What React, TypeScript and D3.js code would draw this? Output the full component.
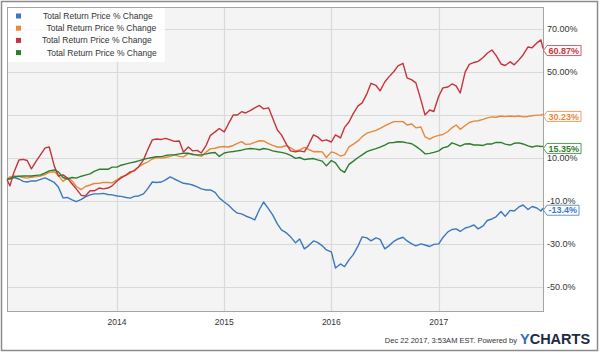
import React, { useEffect, useRef } from "react";
import * as d3 from "d3";

// sample dates: start, 1st and 15th of each month, end
const dates = [
  "2012-12-22",
  "2013-01-01", "2013-01-15", "2013-02-01", "2013-02-15", "2013-03-01", "2013-03-15", "2013-04-01", "2013-04-15",
  "2013-05-01", "2013-05-15", "2013-06-01", "2013-06-15", "2013-07-01", "2013-07-15", "2013-08-01", "2013-08-15",
  "2013-09-01", "2013-09-15", "2013-10-01", "2013-10-15", "2013-11-01", "2013-11-15", "2013-12-01", "2013-12-15",
  "2014-01-01", "2014-01-15", "2014-02-01", "2014-02-15", "2014-03-01", "2014-03-15", "2014-04-01", "2014-04-15",
  "2014-05-01", "2014-05-15", "2014-06-01", "2014-06-15", "2014-07-01", "2014-07-15", "2014-08-01", "2014-08-15",
  "2014-09-01", "2014-09-15", "2014-10-01", "2014-10-15", "2014-11-01", "2014-11-15", "2014-12-01", "2014-12-15",
  "2015-01-01", "2015-01-15", "2015-02-01", "2015-02-15", "2015-03-01", "2015-03-15", "2015-04-01", "2015-04-15",
  "2015-05-01", "2015-05-15", "2015-06-01", "2015-06-15", "2015-07-01", "2015-07-15", "2015-08-01", "2015-08-15",
  "2015-09-01", "2015-09-15", "2015-10-01", "2015-10-15", "2015-11-01", "2015-11-15", "2015-12-01", "2015-12-15",
  "2016-01-01", "2016-01-15", "2016-02-01", "2016-02-15", "2016-03-01", "2016-03-15", "2016-04-01", "2016-04-15",
  "2016-05-01", "2016-05-15", "2016-06-01", "2016-06-15", "2016-07-01", "2016-07-15", "2016-08-01", "2016-08-15",
  "2016-09-01", "2016-09-15", "2016-10-01", "2016-10-15", "2016-11-01", "2016-11-15", "2016-12-01", "2016-12-15",
  "2017-01-01", "2017-01-15", "2017-02-01", "2017-02-15", "2017-03-01", "2017-03-15", "2017-04-01", "2017-04-15",
  "2017-05-01", "2017-05-15", "2017-06-01", "2017-06-15", "2017-07-01", "2017-07-15", "2017-08-01", "2017-08-15",
  "2017-09-01", "2017-09-15", "2017-10-01", "2017-10-15", "2017-11-01", "2017-11-15", "2017-12-01", "2017-12-15",
  "2017-12-22",
];

const blueValues = [
  0,
  0.2, 0.9, 0.2, -0.9, -1.2, -0.7, -0.7, 0, 0.7, -0.2, -1.4, -3.5,
  -8.6, -8.4, -9.5, -10.3, -9.3, -8.1, -7.2, -6.7, -6.7, -6.5, -7.0, -7.2,
  -7.7, -7.9, -8.4, -8.7, -7.9, -7.7, -6.7, -4.4, -1.2, -1.4, -1.2, -0.2,
  1.2, 0.2, -0.9, -1.8, -2.1, -2.6, -3.5, -4.4, -4.9, -4.9, -6.0, -8.6,
  -10.5, -11.9, -14.2, -15.7, -16.0, -17.0, -17.9, -18.8, -14.0, -10.5, -13.7, -16.5,
  -20.7, -23.5, -24.9, -26.7, -29.5, -27.7, -32.3, -30.9, -28.6, -29.3, -30.9, -32.8,
  -33.7, -41.2, -39.3, -40.6, -37.4, -35.1, -30.9, -26.7, -27.2, -28.6, -27.2, -27.9,
  -32.3, -30.9, -28.8, -27.7, -26.9, -28.6, -30.0, -30.9, -30.0, -30.5, -31.2, -30.2,
  -30.0, -27.0, -24.4, -23.3, -23.0, -24.2, -22.6, -22.1, -21.2, -23.0, -21.6, -19.1,
  -18.4, -17.4, -14.9, -17.2, -14.4, -14.7, -12.8, -11.9, -14.0, -12.6, -13.3, -14.7,
  -13.4,
];

const orangeValues = [
  0,
  1.2, 1.6, 1.4, 0.9, 0.6, 1.0, 1.3, 1.6, 2.3, 3.3, 3.6, 1.9,
  -0.9, 0.7, -0.7, -3.3, -4.7, -3.3, -2.6, -1.9, -1.8, -1.4, -1.4, -1.6,
  -0.2, 1.2, 1.9, 2.9, 4.4, 5.8, 7.2, 8.1, 9.5, 10.2, 9.9, 10.2,
  10.7, 11.4, 10.7, 10.5, 12.0, 11.9, 11.2, 10.7, 12.8, 14.2, 14.5, 15.1,
  15.3, 15.1, 15.8, 16.8, 17.6, 16.3, 16.5, 17.2, 18.0, 17.9, 16.7, 15.8,
  15.1, 15.1, 15.8, 14.7, 13.3, 13.7, 14.9, 14.0, 12.9, 13.0, 12.8, 10.2,
  12.8, 12.2, 10.9, 11.4, 15.1, 16.3, 17.9, 19.9, 21.5, 22.1, 22.8, 23.7,
  24.9, 25.8, 26.9, 26.9, 26.9, 25.3, 25.8, 24.0, 24.4, 19.8, 18.7, 19.8,
  20.5, 20.9, 22.3, 24.0, 25.3, 23.3, 25.1, 26.5, 27.1, 27.3, 27.9, 28.6,
  29.1, 28.9, 29.5, 29.2, 29.5, 29.3, 29.5, 29.1, 29.3, 29.6, 29.9, 30.0,
  30.23,
];

const redValues = [
  0,
  -3.0, 3.5, 9.1, 9.3, 8.8, 4.9, 8.6, 11.4, 14.7, 15.1, 6.3, 1.6,
  2.1, 0.7, -2.1, -4.4, -7.4, -7.7, -5.3, -5.3, -4.0, -4.4, -4.0, -3.0,
  -0.7, 0.7, 2.1, 3.5, 4.0, 5.8, 9.1, 13.7, 18.4, 18.8, 18.6, 19.1,
  18.4, 17.7, 17.9, 12.8, 15.1, 13.3, 13.5, 12.3, 16.0, 20.5, 22.1, 23.7,
  22.1, 25.8, 30.0, 30.0, 31.5, 30.9, 32.1, 33.3, 34.4, 32.8, 33.3, 28.6,
  23.0, 20.7, 16.3, 13.3, 12.8, 13.3, 12.8, 16.0, 20.7, 19.8, 17.9, 18.4,
  17.4, 20.7, 19.3, 24.2, 26.7, 30.5, 34.2, 35.6, 39.8, 44.7, 43.7, 41.2,
  45.3, 47.7, 50.2, 52.8, 54.0, 47.2, 46.3, 44.9, 37.0, 30.0, 32.3, 31.6,
  38.8, 42.6, 43.0, 44.4, 43.5, 40.2, 50.0, 53.5, 54.4, 54.9, 56.7, 58.7,
  60.2, 57.7, 53.7, 53.0, 54.7, 53.3, 55.6, 57.9, 61.6, 61.2, 63.5, 64.9,
  60.87,
];

const greenValues = [
  0,
  0.5, 1.2, 1.5, 1.6, 1.6, 1.6, 1.9, 2.1, 3.0, 4.0, 4.4, 3.5,
  0.9, 0.2, 0.9, 0.6, 1.5, 2.0, 2.6, 3.7, 4.7, 4.7, 4.7, 5.7,
  5.7, 6.6, 7.2, 7.7, 8.1, 8.6, 9.3, 9.8, 10.2, 10.6, 10.6, 11.1,
  11.4, 11.4, 11.9, 12.2, 12.2, 11.6, 11.4, 11.4, 11.9, 12.3, 12.5, 10.7,
  12.3, 12.7, 13.0, 13.3, 13.6, 14.1, 14.4, 14.2, 13.8, 14.4, 14.0, 13.3,
  12.9, 12.6, 12.0, 11.2, 9.8, 10.2, 9.2, 9.5, 9.7, 9.1, 8.5, 6.3,
  8.8, 7.7, 4.4, 3.3, 7.0, 8.4, 10.2, 11.4, 12.9, 13.6, 14.3, 15.0,
  16.0, 17.0, 17.2, 17.5, 17.4, 17.0, 16.6, 15.4, 13.7, 11.9, 12.1, 12.6,
  13.3, 14.7, 15.3, 17.0, 16.3, 15.5, 16.5, 16.6, 16.0, 16.0, 15.8, 16.5,
  16.5, 17.2, 17.2, 16.4, 16.0, 16.8, 17.0, 16.5, 15.6, 15.1, 15.6, 15.3,
  15.35,
];

const seriesColors = ["#3b78bf", "#e8883a", "#c6333d", "#2e7d2e"];
const legendLabels = [
  "Total Return Price % Change",
  "Total Return Price % Change",
  "Total Return Price % Change",
  "Total Return Price % Change",
];
const legendTextX = [43, 46.5, 42, 47];
const flagLabels = ["-13.4%", "30.23%", "60.87%", "15.35%"];

const yTickValues = [70, 50, 30, 10, -10, -30, -50];
const yTickLabels = ["70.00%", "50.00%", "", "10.00%", "-10.0%", "-30.0%", "-50.0%"];
const yearTicks = ["2014-01-01", "2015-01-01", "2016-01-01", "2017-01-01"];
const yearLabels = ["2014", "2015", "2016", "2017"];

const footerText = "Dec 22 2017, 3:53AM EST.  Powered by";

const FONT = "Arial, 'Liberation Sans', Helvetica, sans-serif";

const App = () => {
  const ref = useRef(null);

  useEffect(() => {
    const svg = d3.select(ref.current);
    svg.selectAll("*").remove();

    const plot = { left: 7, top: 7, right: 543, bottom: 311 };
    const parse = d3.timeParse("%Y-%m-%d");
    const parsedDates = dates.map((d) => parse(d));

    const x = d3.scaleTime()
      .domain([parsedDates[0], parsedDates[parsedDates.length - 1]])
      .range([plot.left, plot.right]);
    const y = d3.scaleLinear().domain([-61.2, 80.2]).range([plot.bottom, plot.top]);

    // outer frame
    svg.append("rect")
      .attr("x", 1.5).attr("y", 1.5)
      .attr("width", 596).attr("height", 349)
      .attr("fill", "#fff")
      .attr("stroke", "#8a8a8a")
      .attr("stroke-width", 1.5);

    // plot background
    svg.append("rect")
      .attr("x", plot.left + 0.5).attr("y", plot.top + 0.5)
      .attr("width", plot.right - plot.left).attr("height", plot.bottom - plot.top)
      .attr("fill", "#f4f4f4");

    // grid
    svg.append("g").selectAll("line")
      .data(yTickValues)
      .enter().append("line")
      .attr("x1", plot.left).attr("x2", plot.right)
      .attr("y1", (d) => Math.round(y(d)) + 0.5)
      .attr("y2", (d) => Math.round(y(d)) + 0.5)
      .attr("stroke", "#d9d9d9")
      .attr("stroke-width", 1.2);

    svg.append("g").selectAll("line")
      .data(yearTicks)
      .enter().append("line")
      .attr("x1", (d) => Math.round(x(parse(d))) + 0.5)
      .attr("x2", (d) => Math.round(x(parse(d))) + 0.5)
      .attr("y1", plot.top).attr("y2", plot.bottom)
      .attr("stroke", "#d9d9d9")
      .attr("stroke-width", 1.2);

    // plot border
    svg.append("rect")
      .attr("x", plot.left + 0.5).attr("y", plot.top + 0.5)
      .attr("width", plot.right - plot.left).attr("height", plot.bottom - plot.top)
      .attr("fill", "none")
      .attr("stroke", "#a5a5a5")
      .attr("stroke-width", 1);

    // lines
    const allSeries = [blueValues, orangeValues, redValues, greenValues];
    const line = d3.line()
      .x((d, i) => x(parsedDates[i]))
      .y((d) => y(d));

    svg.append("g").selectAll("path")
      .data(allSeries)
      .enter().append("path")
      .attr("d", (d) => line(d))
      .attr("fill", "none")
      .attr("stroke", (d, i) => seriesColors[i])
      .attr("stroke-width", 1.4)
      .attr("stroke-linejoin", "round");

    // y axis labels
    svg.append("g").selectAll("text")
      .data(yTickValues)
      .enter().append("text")
      .text((d, i) => yTickLabels[i])
      .attr("x", 547)
      .attr("y", (d) => y(d) + 3.5)
      .attr("font-family", FONT)
      .attr("font-size", 9)
      .attr("fill", "#333");

    // x axis labels
    svg.append("g").selectAll("text")
      .data(yearTicks)
      .enter().append("text")
      .text((d, i) => yearLabels[i])
      .attr("x", (d) => x(parse(d)))
      .attr("y", 325)
      .attr("text-anchor", "middle")
      .attr("font-family", FONT)
      .attr("font-size", 8.5)
      .attr("fill", "#333");

    // end flags (sit slightly below the last value, like the original)
    allSeries.forEach((vals, i) => {
      const yv = y(vals[vals.length - 1]) + 2;
      const g = svg.append("g");
      const path = g.append("path");
      const txt = g.append("text")
        .text(flagLabels[i])
        .attr("x", 548.5)
        .attr("y", yv + 3.2)
        .attr("font-family", FONT)
        .attr("font-size", 9)
        .attr("font-weight", "bold")
        .attr("fill", seriesColors[i]);
      const w = (txt.node() as SVGTextElement).getComputedTextLength();
      const r = 548.5 + w + 2;
      const h = 5;
      path
        .attr("d", `M${plot.right + 0.5},${yv} L${547},${yv - h} L${r},${yv - h} L${r},${yv + h} L${547},${yv + h} Z`)
        .attr("fill", "#fff")
        .attr("stroke", seriesColors[i])
        .attr("stroke-width", 0.8);
    });

    // legend
    const legend = svg.append("g");
    legend.append("rect")
      .attr("x", plot.left + 1).attr("y", plot.top + 1)
      .attr("width", 157).attr("height", 54)
      .attr("fill", "#fff")
      .attr("fill-opacity", 0.85);

    legend.selectAll("rect.sw")
      .data(legendLabels)
      .enter().append("rect")
      .attr("class", "sw")
      .attr("x", 16)
      .attr("y", (d, i) => 13.5 + i * 12.2)
      .attr("width", 5).attr("height", 5)
      .attr("fill", (d, i) => seriesColors[i]);

    legend.selectAll("text")
      .data(legendLabels)
      .enter().append("text")
      .text((d) => d)
      .attr("x", (d, i) => legendTextX[i])
      .attr("y", (d, i) => 19 + i * 12.2)
      .attr("font-family", FONT)
      .attr("font-size", 8.5)
      .attr("fill", "#333");

    // footer
    svg.append("text")
      .text(footerText)
      .attr("x", 517)
      .attr("y", 343)
      .attr("text-anchor", "end")
      .attr("font-family", FONT)
      .attr("font-size", 7.5)
      .attr("fill", "#333");

    const logo = svg.append("text")
      .attr("x", 520)
      .attr("y", 344)
      .attr("font-family", FONT)
      .attr("font-size", 14.5)
      .attr("font-weight", "bold");
    logo.append("tspan").text("Y").attr("fill", "#2f6fb8");
    logo.append("tspan").text("CHARTS").attr("fill", "#1d2b45");
  }, []);

  return (
    <svg
      ref={ref}
      width={600}
      height={353}
      style={{ position: "absolute", left: 0, top: 0, display: "block", background: "#fff" }}
    />
  );
};

export default App;
